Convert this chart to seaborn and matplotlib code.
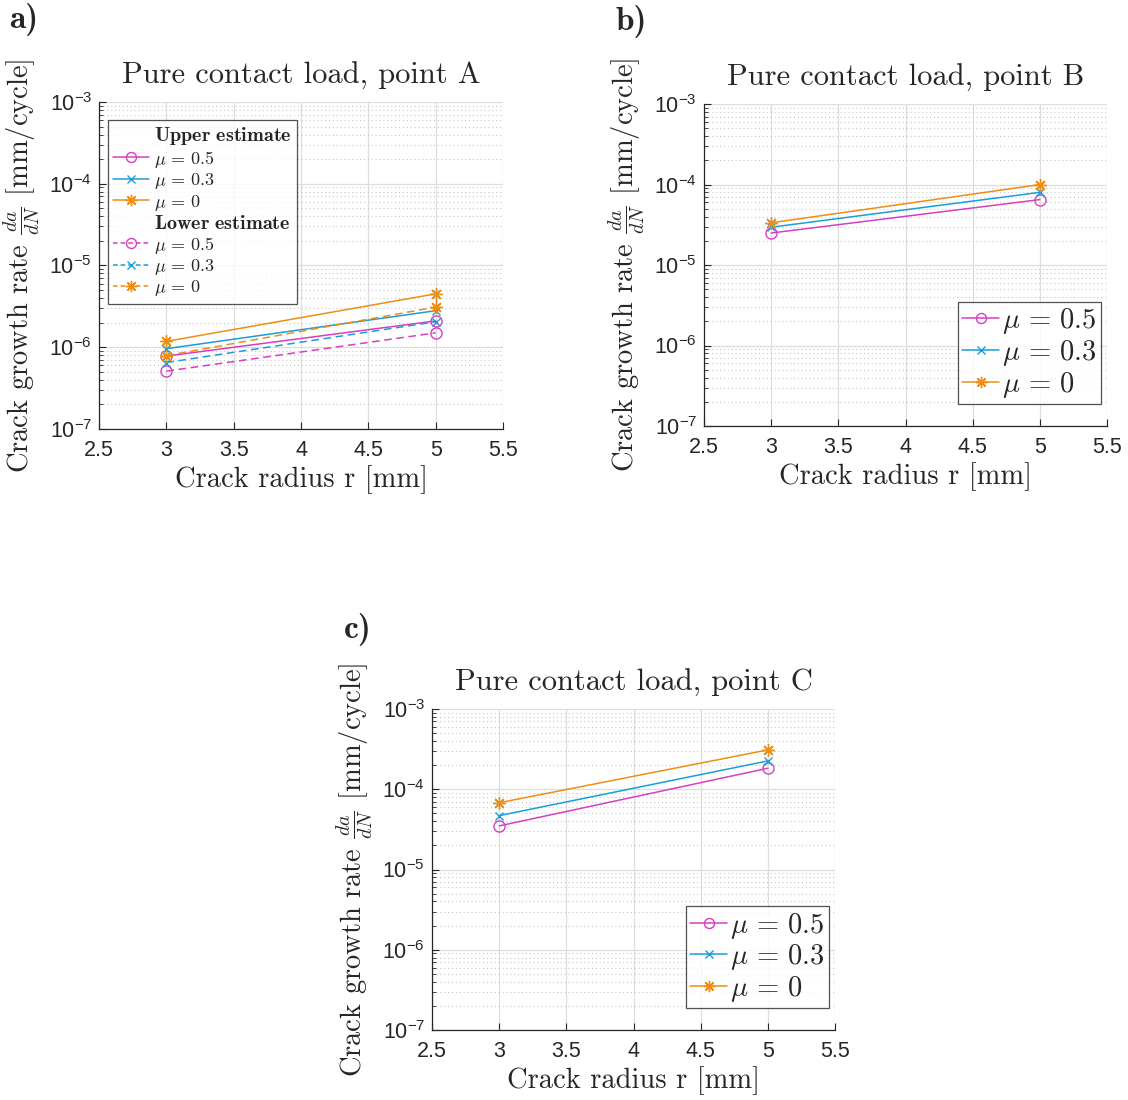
import numpy as np
import pandas as pd
import matplotlib
matplotlib.use("Agg")
import matplotlib.pyplot as plt
import seaborn as sns
from matplotlib.lines import Line2D
from matplotlib.ticker import LogLocator, FixedLocator, NullFormatter, FuncFormatter

# --- data (crack radius in mm, da/dN in mm/cycle) ---
radius = [3, 5]

# panel a: point A, upper and lower estimates
a_upper_mu05 = [7.8e-7, 2.1e-6]
a_upper_mu03 = [9.6e-7, 2.8e-6]
a_upper_mu0 = [1.18e-6, 4.5e-6]
a_lower_mu05 = [5.1e-7, 1.5e-6]
a_lower_mu03 = [6.5e-7, 2.05e-6]
a_lower_mu0 = [7.9e-7, 3.1e-6]

# panel b: point B
b_mu05 = [2.5e-5, 6.5e-5]
b_mu03 = [2.95e-5, 8.0e-5]
b_mu0 = [3.35e-5, 1.0e-4]

# panel c: point C
c_mu05 = [3.5e-5, 1.83e-4]
c_mu03 = [4.7e-5, 2.26e-4]
c_mu0 = [6.8e-5, 3.1e-4]

mu_labels = [r"$\mu\,=\,0.5$", r"$\mu\,=\,0.3$", r"$\mu\,=\,0$"]
x_ticks = [2.5, 3, 3.5, 4, 4.5, 5, 5.5]

# --- style ---
sns.set_theme(style="white")
plt.rcParams["font.family"] = ["Liberation Sans", "DejaVu Sans"]
plt.rcParams["mathtext.fontset"] = "custom"
plt.rcParams["mathtext.rm"] = "Liberation Sans"
plt.rcParams["mathtext.it"] = "Liberation Sans:italic"
plt.rcParams["mathtext.bf"] = "Liberation Sans:bold"
plt.rcParams["axes.unicode_minus"] = False

MAGENTA = "#d63fc2"
BLUE = "#1a9ed6"
ORANGE = "#ee8e14"
colors = [MAGENTA, BLUE, ORANGE]
markers = ["o", "x", (8, 2, 0)]
msizes = [8, 6, 9]

SERIF = "cmr10"


def draw_series(ax, y, color, marker, ms, ls="-"):
    df = pd.DataFrame({"r": radius, "v": y})
    sns.lineplot(data=df, x="r", y="v", ax=ax, color=color, marker=marker,
                 markersize=ms, markerfacecolor="none", markeredgecolor=color,
                 markeredgewidth=1.0, linewidth=1.1, linestyle=ls)


def style_axes(ax, title):
    ax.set_yscale("log")
    ax.set_xlim(2.5, 5.5)
    ax.set_ylim(1e-7, 1e-3)
    ax.xaxis.set_major_locator(FixedLocator(x_ticks))
    ax.xaxis.set_major_formatter(FuncFormatter(lambda v, p: f"{v:g}"))
    ax.yaxis.set_major_locator(LogLocator(base=10, numticks=10))
    ax.yaxis.set_minor_locator(LogLocator(base=10, subs=np.arange(2, 10), numticks=50))
    ax.yaxis.set_minor_formatter(NullFormatter())
    ax.yaxis.set_major_formatter(
        FuncFormatter(lambda v, p: r"$\mathregular{10^{%d}}$" % int(round(np.log10(v)))))
    ax.grid(True, which="major", color="#dedede", linewidth=0.9, linestyle="-")
    ax.grid(True, which="minor", axis="y", color="#c8c8c8", linewidth=0.8, linestyle=(0, (1, 2.5)))
    ax.set_axisbelow(True)
    for s in ["top", "right"]:
        ax.spines[s].set_visible(False)
    for s in ["left", "bottom"]:
        ax.spines[s].set_color("#262626")
        ax.spines[s].set_linewidth(0.9)
    ax.tick_params(which="major", direction="in", length=5, width=0.8, color="#262626",
                   labelsize=15.5, labelcolor="#262626", left=True, bottom=True, pad=8)
    ax.tick_params(which="major", axis="y", pad=5)
    ax.tick_params(which="minor", axis="y", direction="in", length=3, width=0.6,
                   color="#262626", left=True)
    ax.set_title(title, fontfamily=SERIF, fontsize=22, pad=13, math_fontfamily="cm")
    ax.set_xlabel("Crack radius r [mm]", fontfamily=SERIF, fontsize=20.5, labelpad=3,
                  math_fontfamily="cm")
    ax.set_ylabel(r"Crack growth rate $\frac{da}{dN}$ [mm/cycle]", fontfamily=SERIF,
                  fontsize=20.5, math_fontfamily="cm")
    ax.yaxis.set_label_coords(-0.141, 0.5)


fig = plt.figure(figsize=(11.28, 11.0), dpi=100)
ax_a = fig.add_axes([0.0878, 0.610, 0.3582, 0.2973])
ax_b = fig.add_axes([0.6241, 0.6127, 0.3573, 0.2927])
ax_c = fig.add_axes([0.3830, 0.0636, 0.3573, 0.2918])

# panel a
upper = [a_upper_mu05, a_upper_mu03, a_upper_mu0]
lower = [a_lower_mu05, a_lower_mu03, a_lower_mu0]
for y, c, m, s in zip(upper, colors, markers, msizes):
    draw_series(ax_a, y, c, m, s, "-")
for y, c, m, s in zip(lower, colors, markers, msizes):
    draw_series(ax_a, y, c, m, s, (0, (5, 3)))
style_axes(ax_a, "Pure contact load, point A")

blank = Line2D([], [], linestyle="none", marker="none")
h_up = [Line2D([], [], color=c, marker=m, markersize=s * 0.9, markerfacecolor="none",
               markeredgecolor=c, linewidth=1.1) for c, m, s in zip(colors, markers, msizes)]
h_lo = [Line2D([], [], color=c, marker=m, markersize=s * 0.9, markerfacecolor="none",
               markeredgecolor=c, linewidth=1.1, linestyle=(0, (3, 2)))
        for c, m, s in zip(colors, markers, msizes)]
handles = [blank] + h_up + [blank] + h_lo
labels = [r"$\mathbf{Upper\ estimate}$"] + mu_labels + [r"$\mathbf{Lower\ estimate}$"] + mu_labels
leg = ax_a.legend(handles, labels, loc="upper left", bbox_to_anchor=(0.022, 0.945),
                  fontsize=13, handlelength=2.0, handletextpad=0.25, labelspacing=0.08,
                  borderpad=0.3, frameon=True, fancybox=False, edgecolor="#262626",
                  borderaxespad=0.0)
leg.get_frame().set_linewidth(0.9)
for i, t in enumerate(leg.get_texts()):
    t.set_math_fontfamily("cm")
    if i in (0, 4):
        t.set_fontsize(14.5)

# panels b and c
for ax, series, title in [(ax_b, [b_mu05, b_mu03, b_mu0], "Pure contact load, point B"),
                          (ax_c, [c_mu05, c_mu03, c_mu0], "Pure contact load, point C")]:
    for y, c, m, s in zip(series, colors, markers, msizes):
        draw_series(ax, y, c, m, s, "-")
    style_axes(ax, title)
    hs = [Line2D([], [], color=c, marker=m, markersize=s * 0.9, markerfacecolor="none",
                 markeredgecolor=c, linewidth=1.1) for c, m, s in zip(colors, markers, msizes)]
    lg = ax.legend(hs, mu_labels, loc="lower right", bbox_to_anchor=(0.985, 0.068),
                   fontsize=20.5, handlelength=1.3, handletextpad=0.1, labelspacing=0.06,
                   borderpad=0.15, frameon=True, fancybox=False, edgecolor="#262626",
                   borderaxespad=0.0)
    lg.get_frame().set_linewidth(0.9)
    for t in lg.get_texts():
        t.set_math_fontfamily("cm")

# panel letters
fig.text(0.008, 0.982, "a)", fontfamily="cmb10", fontsize=24, va="center")
fig.text(0.546, 0.980, "b)", fontfamily="cmb10", fontsize=24, va="center")
fig.text(0.305, 0.428, "c)", fontfamily="cmb10", fontsize=24, va="center")

fig.savefig("out.png", dpi=100, facecolor="white")
